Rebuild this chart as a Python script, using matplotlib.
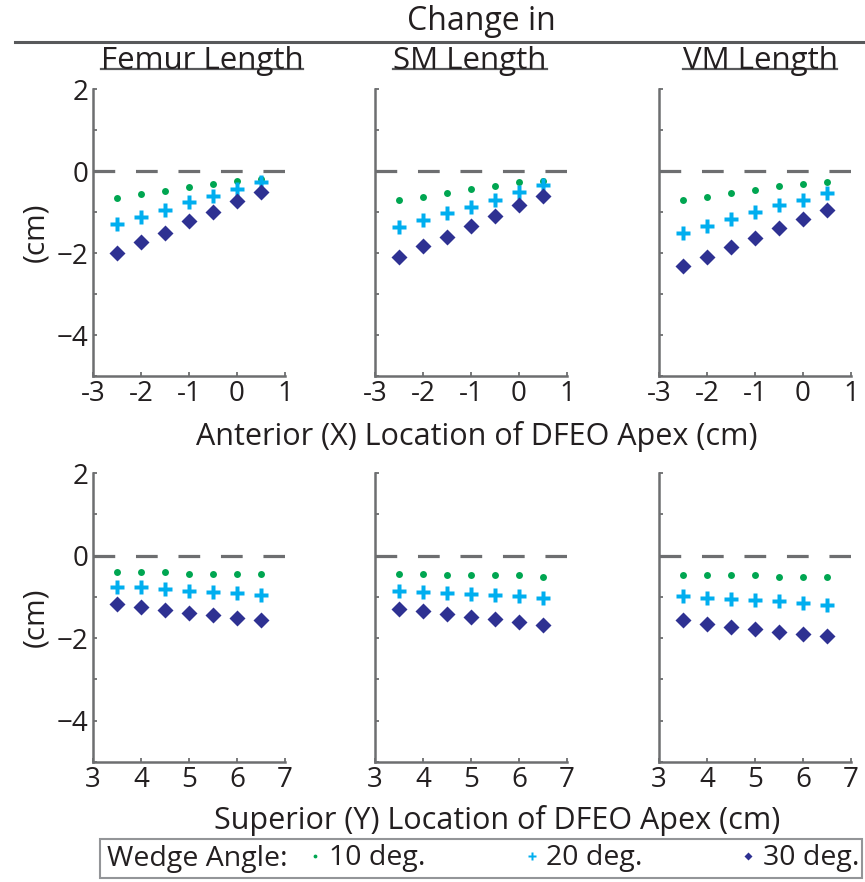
import matplotlib.pyplot as plt
from matplotlib.lines import Line2D
from matplotlib.patches import Rectangle
from matplotlib.transforms import IdentityTransform

plt.rcParams['font.family'] = ['Open Sans', 'DejaVu Sans']

# x locations of the DFEO apex
x_anterior = [-2.5, -2, -1.5, -1, -0.5, 0, 0.5]
x_superior = [3.5, 4, 4.5, 5, 5.5, 6, 6.5]

# top row: change vs anterior location (cm)
femur_ant_10 = [-0.67, -0.56, -0.48, -0.40, -0.32, -0.24, -0.20]
femur_ant_20 = [-1.30, -1.13, -0.94, -0.76, -0.61, -0.44, -0.27]
femur_ant_30 = [-2.00, -1.73, -1.50, -1.23, -1.00, -0.73, -0.52]
sm_ant_10 = [-0.71, -0.64, -0.53, -0.44, -0.37, -0.27, -0.24]
sm_ant_20 = [-1.37, -1.19, -1.03, -0.87, -0.71, -0.51, -0.33]
sm_ant_30 = [-2.09, -1.83, -1.60, -1.34, -1.10, -0.83, -0.61]
vm_ant_10 = [-0.71, -0.64, -0.54, -0.47, -0.37, -0.31, -0.27]
vm_ant_20 = [-1.50, -1.33, -1.16, -0.99, -0.84, -0.71, -0.53]
vm_ant_30 = [-2.32, -2.09, -1.86, -1.64, -1.40, -1.17, -0.94]

# bottom row: change vs superior location (cm)
femur_sup_10 = [-0.41, -0.41, -0.41, -0.44, -0.44, -0.44, -0.44]
femur_sup_20 = [-0.75, -0.77, -0.81, -0.85, -0.88, -0.91, -0.95]
femur_sup_30 = [-1.17, -1.25, -1.31, -1.38, -1.45, -1.52, -1.57]
sm_sup_10 = [-0.44, -0.44, -0.48, -0.48, -0.48, -0.48, -0.52]
sm_sup_20 = [-0.85, -0.88, -0.91, -0.93, -0.95, -0.99, -1.03]
sm_sup_30 = [-1.29, -1.35, -1.42, -1.48, -1.54, -1.60, -1.68]
vm_sup_10 = [-0.48, -0.48, -0.48, -0.48, -0.52, -0.52, -0.52]
vm_sup_20 = [-0.98, -1.02, -1.06, -1.08, -1.11, -1.15, -1.19]
vm_sup_30 = [-1.56, -1.65, -1.72, -1.77, -1.84, -1.89, -1.94]

col_titles = ['Femur Length', 'SM Length', 'VM Length']
angle_labels = ['10 deg.', '20 deg.', '30 deg.']
ant_ticks = [-3, -2, -1, 0, 1]
sup_ticks = [3, 4, 5, 6, 7]
y_ticks = [2, 0, -2, -4]

top_data = [(femur_ant_10, femur_ant_20, femur_ant_30),
            (sm_ant_10, sm_ant_20, sm_ant_30),
            (vm_ant_10, vm_ant_20, vm_ant_30)]
bot_data = [(femur_sup_10, femur_sup_20, femur_sup_30),
            (sm_sup_10, sm_sup_20, sm_sup_30),
            (vm_sup_10, vm_sup_20, vm_sup_30)]

GREEN, CYAN, NAVY = '#00a651', '#00aeef', '#2e3192'
GRAY = '#6d6e70'
TXT = '#231f20'
styles = [dict(marker='o', ms=5, color=GREEN),
          dict(marker='P', ms=10.5, color=CYAN),
          dict(marker='D', ms=8, color=NAVY)]

W, H = 865, 882
fig = plt.figure(figsize=(W / 100, H / 100), dpi=100)

col_left = [93, 375, 659]
ax_w = 192
rows = [(89, 376), (473, 762)]


def make_ax(left, top, bottom):
    return fig.add_axes([left / W, 1 - bottom / H, ax_w / W, (bottom - top) / H])


handles = []
for r, (top, bottom) in enumerate(rows):
    xs = x_anterior if r == 0 else x_superior
    xt = ant_ticks if r == 0 else sup_ticks
    data = top_data if r == 0 else bot_data
    for c in range(3):
        ax = make_ax(col_left[c], top, bottom)
        ax.axhline(0, color=GRAY, lw=2.3, linestyle=(0, (6.8, 6.5)), zorder=1)
        for ys, st in zip(data[c], styles):
            h, = ax.plot(xs, ys, linestyle='none', mec='none', zorder=3, **st)
            if r == 0 and c == 0:
                handles.append(h)
        ax.set_xlim(xt[0], xt[-1])
        ax.set_ylim(-5, 2)
        ax.set_xticks(xt)
        ax.set_xticklabels([f'{t:d}' for t in xt])
        ax.set_yticks(y_ticks)
        ax.set_yticks([1, -1, -3, -5], minor=True)
        if c == 0:
            ax.set_yticklabels([str(t).replace('-', '\u2212') for t in y_ticks])
            ax.set_ylabel('(cm)', fontsize=21.5, color=TXT, labelpad=5)
        else:
            ax.set_yticklabels([])
        for s in ['top', 'right']:
            ax.spines[s].set_visible(False)
        for s in ['left', 'bottom']:
            ax.spines[s].set_color(GRAY)
            ax.spines[s].set_linewidth(1.8)
        ax.tick_params(which='both', direction='in', length=3, width=1.3,
                       color=GRAY, labelsize=20, labelcolor=TXT, pad=3)
        ax.set_facecolor('none')

# axis labels for each row
fig.text(477 / W, 1 - 437 / H, 'Anterior (X) Location of DFEO Apex (cm)',
         ha='center', va='center', fontsize=22, color=TXT)
fig.text(497 / W, 1 - 820 / H, 'Superior (Y) Location of DFEO Apex (cm)',
         ha='center', va='center', fontsize=22, color=TXT)

# header
fig.text(481 / W, 1 - 21 / H, 'Change in', ha='center', va='center',
         fontsize=23, color=TXT)
fig.add_artist(Line2D([15 / W, 1.0], [1 - 42 / H, 1 - 42 / H], color='#58595b', lw=2.2))

title_x = [202, 470, 760]
titles = []
for tx, name in zip(title_x, col_titles):
    titles.append(fig.text(tx / W, 1 - 61 / H, name, ha='center', va='center',
                           fontsize=22.5, color=TXT))

# legend: frame + label + entries
fig.add_artist(Rectangle((100 / W, 1 - 878 / H), 762 / W, 39 / H, fill=False,
                         edgecolor='#939598', lw=1.5, transform=fig.transFigure))
fig.text(107 / W, 1 - 859 / H, 'Wedge Angle:', ha='left', va='center',
         fontsize=20.5, color=TXT)
leg = fig.legend(handles, angle_labels, ncol=3,
                 loc='center', bbox_to_anchor=(305 / W, 1 - 878 / H, 557 / W, 39 / H),
                 mode='expand', frameon=False, fontsize=20.5,
                 handlelength=0.5, handletextpad=0.25, borderaxespad=0,
                 markerscale=0.55, borderpad=0.1)
for t in leg.get_texts():
    t.set_color(TXT)

# underline column titles
fig.canvas.draw()
for t in titles:
    bb = t.get_window_extent()
    yline = bb.y0 + 0.22 * bb.height
    fig.add_artist(Line2D([bb.x0, bb.x1], [yline, yline], color='#58595b',
                          lw=1.6, transform=IdentityTransform()))

fig.savefig('out.png', dpi=100)
